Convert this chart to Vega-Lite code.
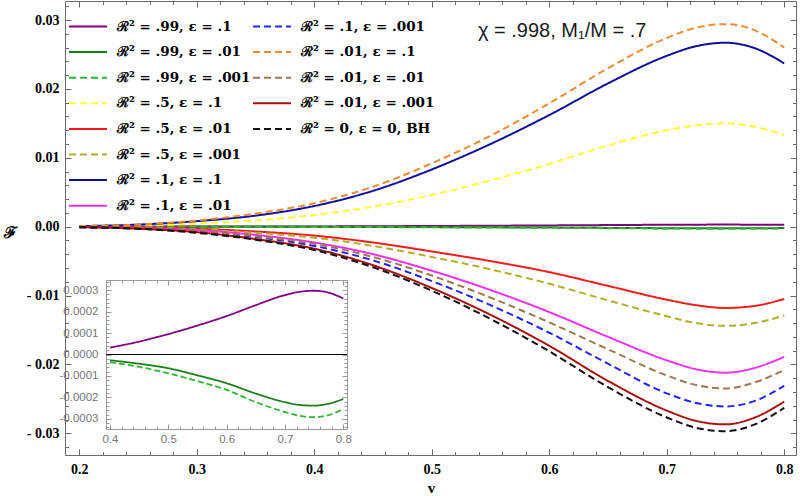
{
  "$schema": "https://vega.github.io/schema/vega-lite/v6.json",
  "width": 731,
  "height": 454,
  "autosize": "none",
  "padding": {"left": 65, "top": 1, "right": 4, "bottom": 41},
  "background": "white",
  "config": {
    "view": {"stroke": "#6a6a6a", "strokeWidth": 1},
    "axis": {"grid": false, "labelOverlap": false, "labelFlush": false, "tickColor": "#6a6a6a", "tickWidth": 1}
  },
  "title": {"text": "χ = .998, M₁/M = .7", "anchor": "start", "frame": "group", "dx": 413, "dy": 27, "offset": -31, "font": "Liberation Sans", "fontSize": 20, "fontWeight": "normal", "color": "#1a1a1a", "baseline": "alphabetic"},
  "data": {"values": [
    {"s": "ℛ² = .99, ε = .1", "v": 0.2, "F": 0.000001}, {"s": "ℛ² = .99, ε = .1", "v": 0.25, "F": 0.000003}, {"s": "ℛ² = .99, ε = .1", "v": 0.3, "F": 0.000009}, {"s": "ℛ² = .99, ε = .1", "v": 0.35, "F": 0.000019}, {"s": "ℛ² = .99, ε = .1", "v": 0.4, "F": 0.000032}, {"s": "ℛ² = .99, ε = .1", "v": 0.45, "F": 0.00006}, {"s": "ℛ² = .99, ε = .1", "v": 0.5, "F": 0.000095}, {"s": "ℛ² = .99, ε = .1", "v": 0.55, "F": 0.000135}, {"s": "ℛ² = .99, ε = .1", "v": 0.6, "F": 0.000179}, {"s": "ℛ² = .99, ε = .1", "v": 0.65, "F": 0.00023}, {"s": "ℛ² = .99, ε = .1", "v": 0.7, "F": 0.000277}, {"s": "ℛ² = .99, ε = .1", "v": 0.725, "F": 0.000292}, {"s": "ℛ² = .99, ε = .1", "v": 0.75, "F": 0.000297}, {"s": "ℛ² = .99, ε = .1", "v": 0.775, "F": 0.000288}, {"s": "ℛ² = .99, ε = .1", "v": 0.8, "F": 0.000261},
    {"s": "ℛ² = .99, ε = .01", "v": 0.2, "F": -0.000001}, {"s": "ℛ² = .99, ε = .01", "v": 0.25, "F": -0.000003}, {"s": "ℛ² = .99, ε = .01", "v": 0.3, "F": -0.000007}, {"s": "ℛ² = .99, ε = .01", "v": 0.35, "F": -0.000015}, {"s": "ℛ² = .99, ε = .01", "v": 0.4, "F": -0.000027}, {"s": "ℛ² = .99, ε = .01", "v": 0.45, "F": -0.000043}, {"s": "ℛ² = .99, ε = .01", "v": 0.5, "F": -0.000064}, {"s": "ℛ² = .99, ε = .01", "v": 0.55, "F": -0.000097}, {"s": "ℛ² = .99, ε = .01", "v": 0.6, "F": -0.000134}, {"s": "ℛ² = .99, ε = .01", "v": 0.65, "F": -0.000182}, {"s": "ℛ² = .99, ε = .01", "v": 0.7, "F": -0.000222}, {"s": "ℛ² = .99, ε = .01", "v": 0.725, "F": -0.000235}, {"s": "ℛ² = .99, ε = .01", "v": 0.75, "F": -0.000238}, {"s": "ℛ² = .99, ε = .01", "v": 0.775, "F": -0.000229}, {"s": "ℛ² = .99, ε = .01", "v": 0.8, "F": -0.000207},
    {"s": "ℛ² = .99, ε = .001", "v": 0.2, "F": -0.000001}, {"s": "ℛ² = .99, ε = .001", "v": 0.25, "F": -0.000004}, {"s": "ℛ² = .99, ε = .001", "v": 0.3, "F": -0.000009}, {"s": "ℛ² = .99, ε = .001", "v": 0.35, "F": -0.000019}, {"s": "ℛ² = .99, ε = .001", "v": 0.4, "F": -0.000036}, {"s": "ℛ² = .99, ε = .001", "v": 0.45, "F": -0.000058}, {"s": "ℛ² = .99, ε = .001", "v": 0.5, "F": -0.000088}, {"s": "ℛ² = .99, ε = .001", "v": 0.55, "F": -0.000124}, {"s": "ℛ² = .99, ε = .001", "v": 0.6, "F": -0.000165}, {"s": "ℛ² = .99, ε = .001", "v": 0.65, "F": -0.000222}, {"s": "ℛ² = .99, ε = .001", "v": 0.7, "F": -0.000268}, {"s": "ℛ² = .99, ε = .001", "v": 0.725, "F": -0.000286}, {"s": "ℛ² = .99, ε = .001", "v": 0.75, "F": -0.000292}, {"s": "ℛ² = .99, ε = .001", "v": 0.775, "F": -0.000282}, {"s": "ℛ² = .99, ε = .001", "v": 0.8, "F": -0.000253},
    {"s": "ℛ² = .5, ε = .1", "v": 0.2, "F": 0.00004}, {"s": "ℛ² = .5, ε = .1", "v": 0.25, "F": 0.00015}, {"s": "ℛ² = .5, ε = .1", "v": 0.3, "F": 0.00045}, {"s": "ℛ² = .5, ε = .1", "v": 0.35, "F": 0.0009}, {"s": "ℛ² = .5, ε = .1", "v": 0.4, "F": 0.0017}, {"s": "ℛ² = .5, ε = .1", "v": 0.45, "F": 0.0029}, {"s": "ℛ² = .5, ε = .1", "v": 0.5, "F": 0.0046}, {"s": "ℛ² = .5, ε = .1", "v": 0.55, "F": 0.0067}, {"s": "ℛ² = .5, ε = .1", "v": 0.6, "F": 0.0091}, {"s": "ℛ² = .5, ε = .1", "v": 0.65, "F": 0.0118}, {"s": "ℛ² = .5, ε = .1", "v": 0.7, "F": 0.0140}, {"s": "ℛ² = .5, ε = .1", "v": 0.725, "F": 0.0147}, {"s": "ℛ² = .5, ε = .1", "v": 0.75, "F": 0.015}, {"s": "ℛ² = .5, ε = .1", "v": 0.775, "F": 0.0145}, {"s": "ℛ² = .5, ε = .1", "v": 0.8, "F": 0.0133},
    {"s": "ℛ² = .5, ε = .01", "v": 0.2, "F": -0.00002}, {"s": "ℛ² = .5, ε = .01", "v": 0.25, "F": -0.0001}, {"s": "ℛ² = .5, ε = .01", "v": 0.3, "F": -0.0003}, {"s": "ℛ² = .5, ε = .01", "v": 0.35, "F": -0.0007}, {"s": "ℛ² = .5, ε = .01", "v": 0.4, "F": -0.0013}, {"s": "ℛ² = .5, ε = .01", "v": 0.45, "F": -0.0023}, {"s": "ℛ² = .5, ε = .01", "v": 0.5, "F": -0.0036}, {"s": "ℛ² = .5, ε = .01", "v": 0.55, "F": -0.005}, {"s": "ℛ² = .5, ε = .01", "v": 0.6, "F": -0.0066}, {"s": "ℛ² = .5, ε = .01", "v": 0.65, "F": -0.0086}, {"s": "ℛ² = .5, ε = .01", "v": 0.7, "F": -0.0106}, {"s": "ℛ² = .5, ε = .01", "v": 0.725, "F": -0.0114}, {"s": "ℛ² = .5, ε = .01", "v": 0.75, "F": -0.0118}, {"s": "ℛ² = .5, ε = .01", "v": 0.775, "F": -0.0115}, {"s": "ℛ² = .5, ε = .01", "v": 0.8, "F": -0.0105},
    {"s": "ℛ² = .5, ε = .001", "v": 0.2, "F": -0.00003}, {"s": "ℛ² = .5, ε = .001", "v": 0.25, "F": -0.00012}, {"s": "ℛ² = .5, ε = .001", "v": 0.3, "F": -0.0004}, {"s": "ℛ² = .5, ε = .001", "v": 0.35, "F": -0.0009}, {"s": "ℛ² = .5, ε = .001", "v": 0.4, "F": -0.0016}, {"s": "ℛ² = .5, ε = .001", "v": 0.45, "F": -0.0028}, {"s": "ℛ² = .5, ε = .001", "v": 0.5, "F": -0.0044}, {"s": "ℛ² = .5, ε = .001", "v": 0.55, "F": -0.0062}, {"s": "ℛ² = .5, ε = .001", "v": 0.6, "F": -0.0083}, {"s": "ℛ² = .5, ε = .001", "v": 0.65, "F": -0.0107}, {"s": "ℛ² = .5, ε = .001", "v": 0.7, "F": -0.0130}, {"s": "ℛ² = .5, ε = .001", "v": 0.725, "F": -0.0140}, {"s": "ℛ² = .5, ε = .001", "v": 0.75, "F": -0.0144}, {"s": "ℛ² = .5, ε = .001", "v": 0.775, "F": -0.0140}, {"s": "ℛ² = .5, ε = .001", "v": 0.8, "F": -0.0129},
    {"s": "ℛ² = .1, ε = .1", "v": 0.2, "F": 0.00008}, {"s": "ℛ² = .1, ε = .1", "v": 0.25, "F": 0.0003}, {"s": "ℛ² = .1, ε = .1", "v": 0.3, "F": 0.0008}, {"s": "ℛ² = .1, ε = .1", "v": 0.35, "F": 0.0016}, {"s": "ℛ² = .1, ε = .1", "v": 0.4, "F": 0.003}, {"s": "ℛ² = .1, ε = .1", "v": 0.45, "F": 0.0052}, {"s": "ℛ² = .1, ε = .1", "v": 0.5, "F": 0.0083}, {"s": "ℛ² = .1, ε = .1", "v": 0.55, "F": 0.0120}, {"s": "ℛ² = .1, ε = .1", "v": 0.6, "F": 0.0162}, {"s": "ℛ² = .1, ε = .1", "v": 0.65, "F": 0.0208}, {"s": "ℛ² = .1, ε = .1", "v": 0.7, "F": 0.0248}, {"s": "ℛ² = .1, ε = .1", "v": 0.725, "F": 0.0262}, {"s": "ℛ² = .1, ε = .1", "v": 0.75, "F": 0.0267}, {"s": "ℛ² = .1, ε = .1", "v": 0.775, "F": 0.0259}, {"s": "ℛ² = .1, ε = .1", "v": 0.8, "F": 0.0237},
    {"s": "ℛ² = .1, ε = .01", "v": 0.2, "F": -0.00005}, {"s": "ℛ² = .1, ε = .01", "v": 0.25, "F": -0.0002}, {"s": "ℛ² = .1, ε = .01", "v": 0.3, "F": -0.0005}, {"s": "ℛ² = .1, ε = .01", "v": 0.35, "F": -0.0012}, {"s": "ℛ² = .1, ε = .01", "v": 0.4, "F": -0.0023}, {"s": "ℛ² = .1, ε = .01", "v": 0.45, "F": -0.0040}, {"s": "ℛ² = .1, ε = .01", "v": 0.5, "F": -0.0064}, {"s": "ℛ² = .1, ε = .01", "v": 0.55, "F": -0.0092}, {"s": "ℛ² = .1, ε = .01", "v": 0.6, "F": -0.0124}, {"s": "ℛ² = .1, ε = .01", "v": 0.65, "F": -0.0160}, {"s": "ℛ² = .1, ε = .01", "v": 0.7, "F": -0.0194}, {"s": "ℛ² = .1, ε = .01", "v": 0.725, "F": -0.0207}, {"s": "ℛ² = .1, ε = .01", "v": 0.75, "F": -0.0212}, {"s": "ℛ² = .1, ε = .01", "v": 0.775, "F": -0.0205}, {"s": "ℛ² = .1, ε = .01", "v": 0.8, "F": -0.0189},
    {"s": "ℛ² = .1, ε = .001", "v": 0.2, "F": -0.00007}, {"s": "ℛ² = .1, ε = .001", "v": 0.25, "F": -0.00025}, {"s": "ℛ² = .1, ε = .001", "v": 0.3, "F": -0.0007}, {"s": "ℛ² = .1, ε = .001", "v": 0.35, "F": -0.0015}, {"s": "ℛ² = .1, ε = .001", "v": 0.4, "F": -0.0028}, {"s": "ℛ² = .1, ε = .001", "v": 0.45, "F": -0.0049}, {"s": "ℛ² = .1, ε = .001", "v": 0.5, "F": -0.0079}, {"s": "ℛ² = .1, ε = .001", "v": 0.55, "F": -0.0114}, {"s": "ℛ² = .1, ε = .001", "v": 0.6, "F": -0.0154}, {"s": "ℛ² = .1, ε = .001", "v": 0.65, "F": -0.0199}, {"s": "ℛ² = .1, ε = .001", "v": 0.7, "F": -0.0242}, {"s": "ℛ² = .1, ε = .001", "v": 0.725, "F": -0.0256}, {"s": "ℛ² = .1, ε = .001", "v": 0.75, "F": -0.0261}, {"s": "ℛ² = .1, ε = .001", "v": 0.775, "F": -0.0253}, {"s": "ℛ² = .1, ε = .001", "v": 0.8, "F": -0.0231},
    {"s": "ℛ² = .01, ε = .1", "v": 0.2, "F": 0.00009}, {"s": "ℛ² = .01, ε = .1", "v": 0.25, "F": 0.0003}, {"s": "ℛ² = .01, ε = .1", "v": 0.3, "F": 0.0009}, {"s": "ℛ² = .01, ε = .1", "v": 0.35, "F": 0.0019}, {"s": "ℛ² = .01, ε = .1", "v": 0.4, "F": 0.0034}, {"s": "ℛ² = .01, ε = .1", "v": 0.45, "F": 0.0058}, {"s": "ℛ² = .01, ε = .1", "v": 0.5, "F": 0.0092}, {"s": "ℛ² = .01, ε = .1", "v": 0.55, "F": 0.0132}, {"s": "ℛ² = .01, ε = .1", "v": 0.6, "F": 0.0179}, {"s": "ℛ² = .01, ε = .1", "v": 0.65, "F": 0.0230}, {"s": "ℛ² = .01, ε = .1", "v": 0.7, "F": 0.0274}, {"s": "ℛ² = .01, ε = .1", "v": 0.725, "F": 0.0289}, {"s": "ℛ² = .01, ε = .1", "v": 0.75, "F": 0.0294}, {"s": "ℛ² = .01, ε = .1", "v": 0.775, "F": 0.0285}, {"s": "ℛ² = .01, ε = .1", "v": 0.8, "F": 0.026},
    {"s": "ℛ² = .01, ε = .01", "v": 0.2, "F": -0.00006}, {"s": "ℛ² = .01, ε = .01", "v": 0.25, "F": -0.0002}, {"s": "ℛ² = .01, ε = .01", "v": 0.3, "F": -0.0006}, {"s": "ℛ² = .01, ε = .01", "v": 0.35, "F": -0.0014}, {"s": "ℛ² = .01, ε = .01", "v": 0.4, "F": -0.0025}, {"s": "ℛ² = .01, ε = .01", "v": 0.45, "F": -0.0044}, {"s": "ℛ² = .01, ε = .01", "v": 0.5, "F": -0.0071}, {"s": "ℛ² = .01, ε = .01", "v": 0.55, "F": -0.0103}, {"s": "ℛ² = .01, ε = .01", "v": 0.6, "F": -0.0139}, {"s": "ℛ² = .01, ε = .01", "v": 0.65, "F": -0.0178}, {"s": "ℛ² = .01, ε = .01", "v": 0.7, "F": -0.0216}, {"s": "ℛ² = .01, ε = .01", "v": 0.725, "F": -0.0230}, {"s": "ℛ² = .01, ε = .01", "v": 0.75, "F": -0.0235}, {"s": "ℛ² = .01, ε = .01", "v": 0.775, "F": -0.0226}, {"s": "ℛ² = .01, ε = .01", "v": 0.8, "F": -0.0208},
    {"s": "ℛ² = .01, ε = .001", "v": 0.2, "F": -0.00008}, {"s": "ℛ² = .01, ε = .001", "v": 0.25, "F": -0.0003}, {"s": "ℛ² = .01, ε = .001", "v": 0.3, "F": -0.0008}, {"s": "ℛ² = .01, ε = .001", "v": 0.35, "F": -0.0018}, {"s": "ℛ² = .01, ε = .001", "v": 0.4, "F": -0.0032}, {"s": "ℛ² = .01, ε = .001", "v": 0.45, "F": -0.0056}, {"s": "ℛ² = .01, ε = .001", "v": 0.5, "F": -0.0089}, {"s": "ℛ² = .01, ε = .001", "v": 0.55, "F": -0.0128}, {"s": "ℛ² = .01, ε = .001", "v": 0.6, "F": -0.0173}, {"s": "ℛ² = .01, ε = .001", "v": 0.65, "F": -0.0224}, {"s": "ℛ² = .01, ε = .001", "v": 0.7, "F": -0.0267}, {"s": "ℛ² = .01, ε = .001", "v": 0.725, "F": -0.0282}, {"s": "ℛ² = .01, ε = .001", "v": 0.75, "F": -0.0287}, {"s": "ℛ² = .01, ε = .001", "v": 0.775, "F": -0.0277}, {"s": "ℛ² = .01, ε = .001", "v": 0.8, "F": -0.0254},
    {"s": "ℛ² = 0, ε = 0, BH", "v": 0.2, "F": -0.00009}, {"s": "ℛ² = 0, ε = 0, BH", "v": 0.25, "F": -0.0003}, {"s": "ℛ² = 0, ε = 0, BH", "v": 0.3, "F": -0.0009}, {"s": "ℛ² = 0, ε = 0, BH", "v": 0.35, "F": -0.0019}, {"s": "ℛ² = 0, ε = 0, BH", "v": 0.4, "F": -0.0034}, {"s": "ℛ² = 0, ε = 0, BH", "v": 0.45, "F": -0.0059}, {"s": "ℛ² = 0, ε = 0, BH", "v": 0.5, "F": -0.0093}, {"s": "ℛ² = 0, ε = 0, BH", "v": 0.55, "F": -0.0134}, {"s": "ℛ² = 0, ε = 0, BH", "v": 0.6, "F": -0.0181}, {"s": "ℛ² = 0, ε = 0, BH", "v": 0.65, "F": -0.0233}, {"s": "ℛ² = 0, ε = 0, BH", "v": 0.7, "F": -0.0277}, {"s": "ℛ² = 0, ε = 0, BH", "v": 0.725, "F": -0.0292}, {"s": "ℛ² = 0, ε = 0, BH", "v": 0.75, "F": -0.0297}, {"s": "ℛ² = 0, ε = 0, BH", "v": 0.775, "F": -0.0287}, {"s": "ℛ² = 0, ε = 0, BH", "v": 0.8, "F": -0.0263}
  ]},
  "layer": [
    {
      "transform": [{"filter": {"field": "s", "oneOf": ["ℛ² = .99, ε = .1", "ℛ² = .99, ε = .01", "ℛ² = .99, ε = .001", "ℛ² = .5, ε = .1", "ℛ² = .5, ε = .01", "ℛ² = .5, ε = .001", "ℛ² = .1, ε = .1", "ℛ² = .1, ε = .01"]}}],
      "mark": {"type": "line", "interpolate": "monotone", "strokeWidth": 2, "clip": true},
      "encoding": {
        "x": {
          "field": "v", "type": "quantitative",
          "scale": {"domain": [0.1878, 0.81], "nice": false, "zero": false},
          "axis": {
            "orient": "bottom", "domain": false,
            "values": [0.2, 0.22, 0.24, 0.26, 0.28, 0.3, 0.32, 0.34, 0.36, 0.38, 0.4, 0.42, 0.44, 0.46, 0.48, 0.5, 0.52, 0.54, 0.56, 0.58, 0.6, 0.62, 0.64, 0.66, 0.68, 0.7, 0.72, 0.74, 0.76, 0.78, 0.8],
            "tickSize": {"condition": {"test": "abs(datum.value*10-round(datum.value*10))<0.001", "value": -6}, "value": -3.5},
            "labelExpr": "abs(datum.value*10-round(datum.value*10))<0.001 ? format(datum.value,'.1f') : ''",
            "labelFont": "Liberation Serif", "labelFontWeight": "bold", "labelFontSize": 14, "labelColor": "black", "labelPadding": 13,
            "title": "v", "titleFont": "Liberation Serif", "titleFontWeight": "bold", "titleFontSize": 15, "titleColor": "black",
            "titleX": 366, "titleY": 37, "titleAlign": "center", "titleBaseline": "alphabetic"
          }
        },
        "y": {
          "field": "F", "type": "quantitative",
          "scale": {"domain": [-0.03315, 0.03276], "nice": false, "zero": false},
          "axis": {
            "orient": "left", "domain": false,
            "values": [-0.032, -0.03, -0.028, -0.026, -0.024, -0.022, -0.02, -0.018, -0.016, -0.014, -0.012, -0.01, -0.008, -0.006, -0.004, -0.002, 0, 0.002, 0.004, 0.006, 0.008, 0.01, 0.012, 0.014, 0.016, 0.018, 0.02, 0.022, 0.024, 0.026, 0.028, 0.03, 0.032],
            "tickSize": {"condition": {"test": "abs(datum.value*100-round(datum.value*100))<0.001", "value": -6}, "value": -3.5},
            "labelExpr": "abs(datum.value*100-round(datum.value*100))<0.001 ? (datum.value < -0.0001 ? '- ' + format(-datum.value,'.2f') : format(abs(datum.value),'.2f')) : ''",
            "labelFont": "Liberation Serif", "labelFontWeight": "bold", "labelFontSize": 14, "labelColor": "black", "labelPadding": 12,
            "title": "ℱ", "titleFont": "Liberation Serif", "titleFontWeight": "bold", "titleFontSize": 16, "titleColor": "black",
            "titleAngle": 0, "titleX": -55, "titleY": 231, "titleAlign": "center", "titleBaseline": "middle"
          }
        },
        "color": {
          "field": "s", "type": "nominal",
          "scale": {"domain": ["ℛ² = .99, ε = .1", "ℛ² = .99, ε = .01", "ℛ² = .99, ε = .001", "ℛ² = .5, ε = .1", "ℛ² = .5, ε = .01", "ℛ² = .5, ε = .001", "ℛ² = .1, ε = .1", "ℛ² = .1, ε = .01"], "range": ["#800080", "#1a801a", "#33b533", "#ffff33", "#f51c1c", "#b0b02a", "#101099", "#f032f0"]},
          "legend": {"orient": "none", "legendX": 12.5, "legendY": 15, "title": null, "symbolType": "M-2,0L2,0", "symbolSize": 361, "symbolStrokeWidth": 2, "labelFont": "DejaVu Serif", "labelFontWeight": "bold", "labelFontSize": 13.5, "labelColor": "black", "labelOffset": 18.5, "rowPadding": 8.6, "padding": 0, "labelLimit": 300}
        },
        "strokeDash": {
          "field": "s", "type": "nominal",
          "scale": {"domain": ["ℛ² = .99, ε = .1", "ℛ² = .99, ε = .01", "ℛ² = .99, ε = .001", "ℛ² = .5, ε = .1", "ℛ² = .5, ε = .01", "ℛ² = .5, ε = .001", "ℛ² = .1, ε = .1", "ℛ² = .1, ε = .01"], "range": [[1, 0], [1, 0], [7, 4], [7, 4], [1, 0], [7, 4], [1, 0], [1, 0]]},
          "legend": {"orient": "none", "legendX": 12.5, "legendY": 15, "title": null, "symbolType": "M-2,0L2,0", "symbolSize": 361, "symbolStrokeWidth": 2, "labelFont": "DejaVu Serif", "labelFontWeight": "bold", "labelFontSize": 13.5, "labelColor": "black", "labelOffset": 18.5, "rowPadding": 8.6, "padding": 0, "labelLimit": 300}
        }
      }
    },
    {
      "transform": [{"filter": {"field": "s", "oneOf": ["ℛ² = .1, ε = .001", "ℛ² = .01, ε = .1", "ℛ² = .01, ε = .01", "ℛ² = .01, ε = .001", "ℛ² = 0, ε = 0, BH"]}}],
      "mark": {"type": "line", "interpolate": "monotone", "strokeWidth": 2, "clip": true},
      "encoding": {
        "x": {
          "field": "v", "type": "quantitative",
          "scale": {"domain": [0.1878, 0.81], "nice": false, "zero": false},
          "axis": {
            "orient": "top", "domain": false, "labels": false, "title": null,
            "values": [0.2, 0.22, 0.24, 0.26, 0.28, 0.3, 0.32, 0.34, 0.36, 0.38, 0.4, 0.42, 0.44, 0.46, 0.48, 0.5, 0.52, 0.54, 0.56, 0.58, 0.6, 0.62, 0.64, 0.66, 0.68, 0.7, 0.72, 0.74, 0.76, 0.78, 0.8],
            "tickSize": {"condition": {"test": "abs(datum.value*10-round(datum.value*10))<0.001", "value": -6}, "value": -3.5}
          }
        },
        "y": {
          "field": "F", "type": "quantitative",
          "scale": {"domain": [-0.03315, 0.03276], "nice": false, "zero": false},
          "axis": {
            "orient": "right", "domain": false, "labels": false, "title": null,
            "values": [-0.032, -0.03, -0.028, -0.026, -0.024, -0.022, -0.02, -0.018, -0.016, -0.014, -0.012, -0.01, -0.008, -0.006, -0.004, -0.002, 0, 0.002, 0.004, 0.006, 0.008, 0.01, 0.012, 0.014, 0.016, 0.018, 0.02, 0.022, 0.024, 0.026, 0.028, 0.03, 0.032],
            "tickSize": {"condition": {"test": "abs(datum.value*100-round(datum.value*100))<0.001", "value": -6}, "value": -3.5}
          }
        },
        "color": {
          "field": "s", "type": "nominal",
          "scale": {"domain": ["ℛ² = .1, ε = .001", "ℛ² = .01, ε = .1", "ℛ² = .01, ε = .01", "ℛ² = .01, ε = .001", "ℛ² = 0, ε = 0, BH"], "range": ["#2323ff", "#f08c30", "#a07850", "#a81010", "#111111"]},
          "legend": {"orient": "none", "legendX": 196.5, "legendY": 15, "title": null, "symbolType": "M-2,0L2,0", "symbolSize": 361, "symbolStrokeWidth": 2, "labelFont": "DejaVu Serif", "labelFontWeight": "bold", "labelFontSize": 13.5, "labelColor": "black", "labelOffset": 18.5, "rowPadding": 8.6, "padding": 0, "labelLimit": 300}
        },
        "strokeDash": {
          "field": "s", "type": "nominal",
          "scale": {"domain": ["ℛ² = .1, ε = .001", "ℛ² = .01, ε = .1", "ℛ² = .01, ε = .01", "ℛ² = .01, ε = .001", "ℛ² = 0, ε = 0, BH"], "range": [[7, 4], [7, 4], [7, 4], [1, 0], [7, 4]]},
          "legend": {"orient": "none", "legendX": 196.5, "legendY": 15, "title": null, "symbolType": "M-2,0L2,0", "symbolSize": 361, "symbolStrokeWidth": 2, "labelFont": "DejaVu Serif", "labelFontWeight": "bold", "labelFontSize": 13.5, "labelColor": "black", "labelOffset": 18.5, "rowPadding": 8.6, "padding": 0, "labelLimit": 300}
        }
      }
    },
    {
      "transform": [
        {"filter": {"field": "s", "oneOf": ["ℛ² = .99, ε = .1", "ℛ² = .99, ε = .01", "ℛ² = .99, ε = .001"]}},
        {"filter": "datum.v >= 0.4"}
      ],
      "mark": {"type": "line", "interpolate": "monotone", "strokeWidth": 1.8},
      "encoding": {
        "x": {
          "field": "v", "type": "quantitative",
          "scale": {"domain": [0.3931, 0.8063], "range": [41, 282], "nice": false, "zero": false},
          "axis": {
            "orient": "bottom", "offset": -26, "domain": true, "domainColor": "#9a9a9a", "tickColor": "#9a9a9a", "title": null,
            "values": [0.4, 0.42, 0.44, 0.46, 0.48, 0.5, 0.52, 0.54, 0.56, 0.58, 0.6, 0.62, 0.64, 0.66, 0.68, 0.7, 0.72, 0.74, 0.76, 0.78, 0.8],
            "tickSize": {"condition": {"test": "abs(datum.value*10-round(datum.value*10))<0.001", "value": -5}, "value": -3},
            "labelExpr": "abs(datum.value*10-round(datum.value*10))<0.001 ? format(datum.value,'.1f') : ''",
            "labelFont": "Liberation Sans", "labelFontSize": 11.5, "labelColor": "#777777", "labelPadding": 9
          }
        },
        "y": {
          "field": "F", "type": "quantitative",
          "scale": {"domain": [-0.000347, 0.000347], "range": [428, 279], "nice": false, "zero": false},
          "axis": {
            "orient": "left", "offset": -41, "domain": true, "domainColor": "#9a9a9a", "tickColor": "#9a9a9a", "title": null,
            "values": [-0.00034, -0.00032, -0.0003, -0.00028, -0.00026, -0.00024, -0.00022, -0.0002, -0.00018, -0.00016, -0.00014, -0.00012, -0.0001, -0.00008, -0.00006, -0.00004, -0.00002, 0, 0.00002, 0.00004, 0.00006, 0.00008, 0.0001, 0.00012, 0.00014, 0.00016, 0.00018, 0.0002, 0.00022, 0.00024, 0.00026, 0.00028, 0.0003, 0.00032, 0.00034],
            "tickSize": {"condition": {"test": "abs(datum.value*10000-round(datum.value*10000))<0.001", "value": -5}, "value": -3},
            "labelExpr": "abs(datum.value*10000-round(datum.value*10000))<0.001 ? (datum.value < -0.000001 ? '-' : '') + format(abs(datum.value),'.4f') : ''",
            "labelFont": "Liberation Sans", "labelFontSize": 11.5, "labelColor": "#777777", "labelPadding": 13
          }
        },
        "color": {
          "field": "s", "type": "nominal", "legend": null,
          "scale": {"domain": ["ℛ² = .99, ε = .1", "ℛ² = .99, ε = .01", "ℛ² = .99, ε = .001"], "range": ["#800080", "#1a801a", "#33b533"]}
        },
        "strokeDash": {
          "field": "s", "type": "nominal", "legend": null,
          "scale": {"domain": ["ℛ² = .99, ε = .1", "ℛ² = .99, ε = .01", "ℛ² = .99, ε = .001"], "range": [[1, 0], [1, 0], [6, 3]]}
        }
      }
    },
    {
      "data": {"values": [{}]},
      "mark": {"type": "rule", "color": "black", "strokeWidth": 1},
      "encoding": {
        "x": {
          "datum": 0.3931, "type": "quantitative",
          "scale": {"domain": [0.3931, 0.8063], "range": [41, 282], "nice": false, "zero": false},
          "axis": {
            "orient": "top", "offset": -279, "domain": true, "domainColor": "#9a9a9a", "tickColor": "#9a9a9a", "labels": false, "title": null,
            "values": [0.4, 0.42, 0.44, 0.46, 0.48, 0.5, 0.52, 0.54, 0.56, 0.58, 0.6, 0.62, 0.64, 0.66, 0.68, 0.7, 0.72, 0.74, 0.76, 0.78, 0.8],
            "tickSize": {"condition": {"test": "abs(datum.value*10-round(datum.value*10))<0.001", "value": -5}, "value": -3}
          }
        },
        "x2": {"datum": 0.8063},
        "y": {
          "datum": 0, "type": "quantitative",
          "scale": {"domain": [-0.000347, 0.000347], "range": [428, 279], "nice": false, "zero": false},
          "axis": {
            "orient": "right", "offset": -449, "domain": true, "domainColor": "#9a9a9a", "tickColor": "#9a9a9a", "labels": false, "title": null,
            "values": [-0.00034, -0.00032, -0.0003, -0.00028, -0.00026, -0.00024, -0.00022, -0.0002, -0.00018, -0.00016, -0.00014, -0.00012, -0.0001, -0.00008, -0.00006, -0.00004, -0.00002, 0, 0.00002, 0.00004, 0.00006, 0.00008, 0.0001, 0.00012, 0.00014, 0.00016, 0.00018, 0.0002, 0.00022, 0.00024, 0.00026, 0.00028, 0.0003, 0.00032, 0.00034],
            "tickSize": {"condition": {"test": "abs(datum.value*10000-round(datum.value*10000))<0.001", "value": -5}, "value": -3}
          }
        }
      }
    }
  ],
  "resolve": {
    "scale": {"x": "independent", "y": "independent", "color": "independent", "strokeDash": "independent"},
    "axis": {"x": "independent", "y": "independent"}
  }
}
